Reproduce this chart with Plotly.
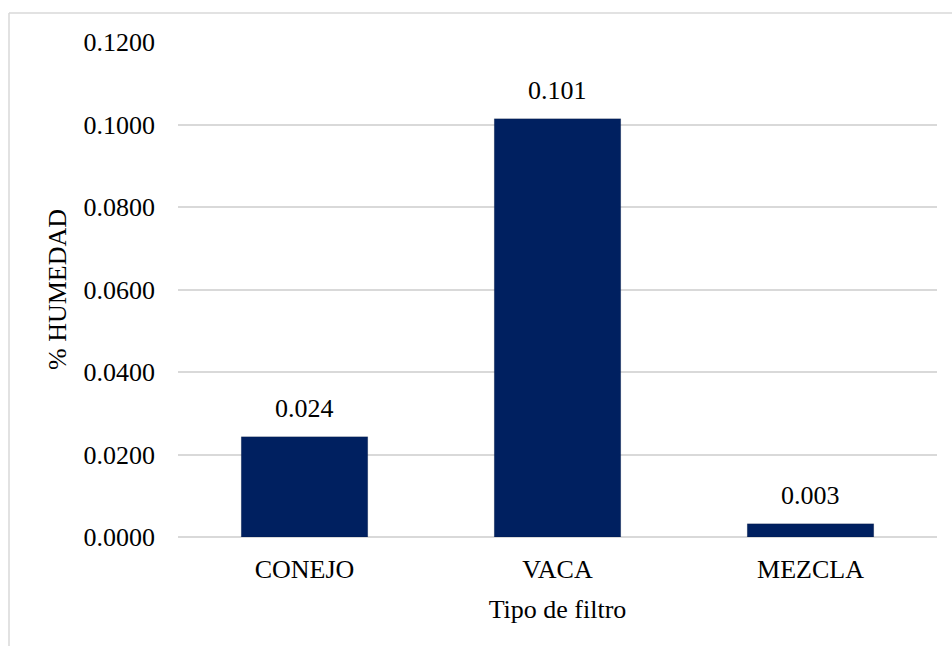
import plotly.graph_objects as go

# Moisture content by filter type
categories = ["CONEJO", "VACA", "MEZCLA"]
humedad = [0.0243, 0.1014, 0.0032]
y_ticks = [0.0, 0.02, 0.04, 0.06, 0.08, 0.10, 0.12]
y_tick_text = ["0.0000", "0.0200", "0.0400", "0.0600", "0.0800", "0.1000", "0.1200"]

W, H = 952, 646
ML, MR, MT, MB = 178, 15, 42, 109
PW, PH = W - ML - MR, H - MT - MB

FONT = "Liberation Serif"
GRID = "#d9d9d9"

fig = go.Figure(
    go.Bar(
        x=categories,
        y=humedad,
        marker=dict(color="#002060", line=dict(color="rgba(0,0,0,0.12)", width=1)),
        cliponaxis=False,
    )
)

# value labels above each bar
for cat, val in zip(categories, humedad):
    fig.add_annotation(
        x=cat, y=val, text=f"{val:.3f}", showarrow=False,
        yanchor="bottom", yshift=12,
        font=dict(family=FONT, size=26, color="#000000"),
    )


def px_x(px):
    return (px - ML) / PW


def px_y(py):
    return 1 - (py - MT) / PH


# light outer frame on left and top
fig.add_shape(type="line", xref="paper", yref="paper",
              x0=px_x(9), x1=px_x(9), y0=px_y(13), y1=px_y(H + 5),
              line=dict(color=GRID, width=1.5))
fig.add_shape(type="line", xref="paper", yref="paper",
              x0=px_x(9), x1=px_x(W + 5), y0=px_y(13), y1=px_y(13),
              line=dict(color=GRID, width=1.5))

fig.update_layout(
    width=W,
    height=H,
    margin=dict(l=ML, r=MR, t=MT, b=MB),
    paper_bgcolor="white",
    plot_bgcolor="white",
    showlegend=False,
    bargap=0.5,
    font=dict(family=FONT, size=26, color="#000000"),
    xaxis=dict(
        title=dict(text="Tipo de filtro", font=dict(family=FONT, size=26), standoff=16),
        tickfont=dict(family=FONT, size=26),
        showgrid=False,
        showline=False,
        ticks="",
        ticklabelstandoff=14,
    ),
    yaxis=dict(
        title=dict(text="% HUMEDAD", font=dict(family=FONT, size=26), standoff=9),
        range=[0, 0.12],
        tickvals=y_ticks,
        ticktext=y_tick_text,
        tickfont=dict(family=FONT, size=26),
        showgrid=True,
        gridcolor=GRID,
        gridwidth=1.5,
        zeroline=True,
        zerolinecolor=GRID,
        zerolinewidth=1.5,
        showline=False,
        ticks="",
        ticklabelstandoff=22,
    ),
)

fig.write_html("out.html")
